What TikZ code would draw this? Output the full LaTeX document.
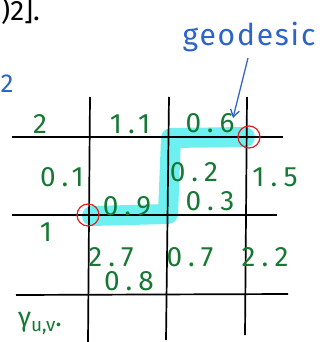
\documentclass[tikz,border=0pt]{standalone}
\usepackage{fontspec}
\setmainfont{Fira Sans}
\newfontfamily\hand[LetterSpace=22]{Fira Sans}
\newfontfamily\handb[LetterSpace=6]{Fira Sans}
\usetikzlibrary{arrows.meta}
\definecolor{pen}{RGB}{22,120,52}
\definecolor{bluepen}{RGB}{45,100,200}
\definecolor{hl}{RGB}{110,240,240}
\definecolor{redpen}{RGB}{225,30,30}
\tikzset{
  gridline/.style={line width=1.7pt,black},
  num/.style={text=pen,font=\hand\fontsize{28}{28}\selectfont,inner sep=0pt},
  ring/.style={draw=redpen,line width=1.2pt,circle,minimum size=22pt,inner sep=0pt},
  highlight/.style={hl,line width=20pt,line cap=round,line join=round},
}
\begin{document}
\begin{tikzpicture}[x=1pt,y=-1pt]
\useasboundingbox (0,0) rectangle (326,342);
% highlight path
\draw[highlight] (92,216) -- (168,214) -- (171,138) -- (245,137);
% grid
\draw[gridline] (12,137) -- (283,137);
\draw[gridline] (12,215) -- (277,215);
\draw[gridline] (16,295) -- (288,294);
\draw[gridline] (90,97) -- (88,342);
\draw[gridline] (169,97) -- (166,340);
\draw[gridline] (247,97) -- (245,335);
% circles
\node[ring] (s) at (88,215) {};
\node[ring] (t) at (249,137) {};
% weights
\node[num] (w1) at (40,124) {2};
\node[num] (w2) at (130,124) {1.1};
\node[num] (w3) at (210,123) {0.6};
\node[num] (w4) at (62,177) {0.1};
\node[num] (w5) at (194,172) {0.2};
\node[num] (w6) at (275,177) {1.5};
\node[num] (w7) at (127,206) {0.9};
\node[num] (w8) at (210,201) {0.3};
\node[num] (w9) at (46,232) {1};
\node[num] (w10) at (111,257) {2.7};
\node[num] (w11) at (129,281) {0.8};
\node[num] (w12) at (190,257) {0.7};
\node[num] (w13) at (265,257) {2.2};
\node[text=pen,font=\fontsize{27}{27}\selectfont,inner sep=0pt] (g) at (40,323) {γ\raisebox{-5pt}{\fontsize{19}{19}\selectfont u,v}.};
% geodesic label
\node[text=bluepen,font=\handb\fontsize{30}{30}\selectfont,inner sep=0pt] (geo) at (249,37) {geodesic};
\coordinate (tip) at (233,118);
\draw[bluepen,line width=1.3pt,-{Straight Barb[length=7pt,width=9pt]}] (248,58) -- (tip);
% fragments at edges
\node[font=\fontsize{28}{28}\selectfont,inner sep=0pt,anchor=west] (frag) at (1,11) {)2].};
\node[text=bluepen,font=\fontsize{26}{26}\selectfont,inner sep=0pt] (frag2) at (7,84) {2};
\end{tikzpicture}
\end{document}
